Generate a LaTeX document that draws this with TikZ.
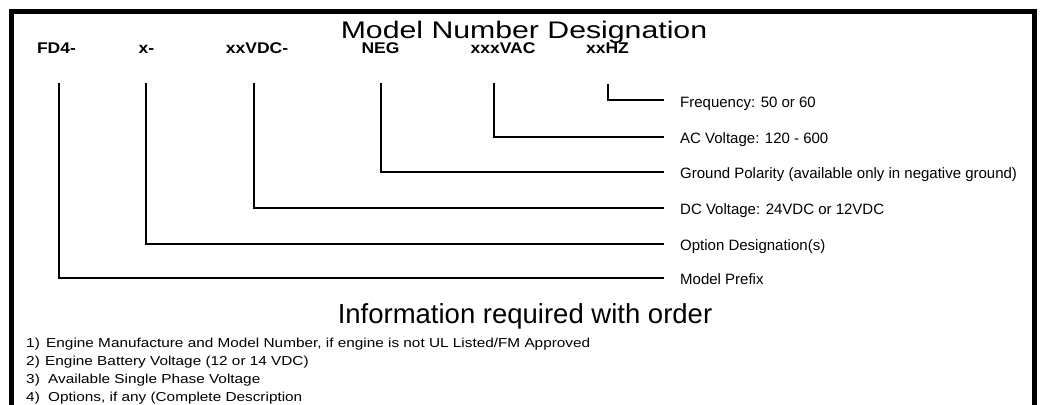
\documentclass[tikz,border=0pt]{standalone}
\usepackage{fontspec}
\setmainfont{Liberation Sans}
\begin{document}
\begin{tikzpicture}[x=1pt,y=-1pt,
  title/.style={font=\fontsize{27.5}{30}\selectfont, anchor=base, inner sep=0},
  code/.style={font=\fontsize{15.5}{18}\selectfont\bfseries, anchor=base, inner sep=0, xscale=1.13},
  lbl/.style={font=\fontsize{15}{17}\selectfont, anchor=base west, inner sep=0},
  item/.style={font=\fontsize{13}{15}\selectfont, anchor=base west, inner sep=0, xscale=1.18},
  conn/.style={line width=1.6pt, line cap=rect}]
\useasboundingbox (0,0) rectangle (1043,404);
\draw[line width=5pt] (11.5,430) -- (11.5,11.5) -- (1034.5,11.5) -- (1034.5,430);
\node[title, font=\fontsize{24}{27}\selectfont, xscale=1.26] (t1) at (524,38) {Model Number Designation};
\node[code] (c1) at (56.5,54) {FD4-};
\node[code] (c2) at (146.5,54) {x-};
\node[code] (c3) at (257,54) {xxVDC-};
\node[code] (c4) at (380.5,54) {NEG};
\node[code] (c5) at (503,54) {xxxVAC};
\node[code] (c6) at (607.5,54) {xxHZ};
\coordinate (e6) at (663,100);
\coordinate (e5) at (663,137);
\coordinate (e4) at (663,172);
\coordinate (e3) at (663,208);
\coordinate (e2) at (663,244);
\coordinate (e1) at (663,278);
\coordinate (s1) at (59,84);
\coordinate (s2) at (146,84);
\coordinate (s3) at (254,84);
\coordinate (s4) at (381,84);
\coordinate (s5) at (494,84);
\coordinate (s6) at (608,85);
\foreach \i in {1,...,6} {\draw[conn] (s\i) |- (e\i);}
\node[lbl] (l6) at (680,107) {Frequency: 50 or 60};
\node[lbl] (l5) at (680,143) {AC Voltage: 120 - 600};
\node[lbl] (l4) at (680,178.5) {Ground Polarity (available only in negative ground)};
\node[lbl] (l3) at (680,214) {DC Voltage: 24VDC or 12VDC};
\node[lbl] (l2) at (680,250) {Option Designation(s)};
\node[lbl] (l1) at (680,284.5) {Model Prefix};
\node[title] (t2) at (525,323) {Information required with order};
\node[item] (n1) at (26,347) {1)};
\node[item] (i1) at (46,347) {Engine Manufacture and Model Number, if engine is not UL Listed/FM Approved};
\node[item] (n2) at (26,365) {2)};
\node[item] (i2) at (45,365) {Engine Battery Voltage (12 or 14 VDC)};
\node[item] (n3) at (26,383) {3)};
\node[item] (i3) at (48,383) {Available Single Phase Voltage};
\node[item] (n4) at (26,401.5) {4)};
\node[item] (i4) at (48,401.5) {Options, if any (Complete Description};
\end{tikzpicture}
\end{document}
